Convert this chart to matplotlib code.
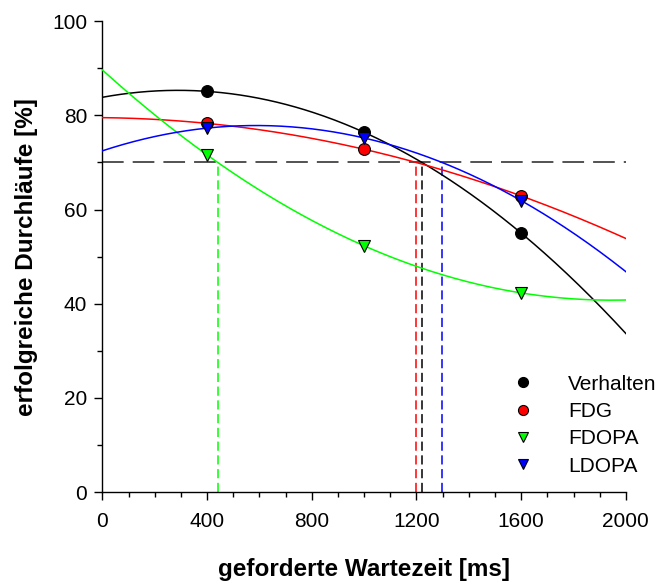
import numpy as np
import matplotlib
matplotlib.use("Agg")
import matplotlib.pyplot as plt
from matplotlib.ticker import MultipleLocator

plt.rcParams['font.family'] = ['Liberation Sans', 'DejaVu Sans']

# Required waiting time (ms) and percentage of successful runs per group
wartezeit = [400, 1000, 1600]
verhalten = [85.1, 76.4, 55.0]
fdg = [78.3, 72.8, 62.9]
fdopa = [71.6, 52.3, 42.3]
ldopa = [77.3, 75.2, 61.9]
schwelle = 70

groups = [
    ("Verhalten", verhalten, "black", "o"),
    ("FDG", fdg, "red", "o"),
    ("FDOPA", fdopa, "#00ff00", "v"),
    ("LDOPA", ldopa, "blue", "v"),
]

fig = plt.figure(figsize=(6.63, 5.81), dpi=100)
ax = fig.add_axes([0.1545, 0.153, 0.7895, 0.8105])

xs = np.linspace(0, 2000, 400)
ax.plot([0, 2000], [schwelle, schwelle], color="#444444", lw=1.3,
        dashes=(12, 5), zorder=2)

for name, vals, col, mk in groups:
    coef = np.polyfit(wartezeit, vals, 2)
    ax.plot(xs, np.polyval(coef, xs), color=col, lw=1.1, zorder=3)
    # crossing of the fitted curve with the threshold
    roots = np.roots(coef - np.array([0, 0, schwelle]))
    roots = [r.real for r in roots if abs(r.imag) < 1e-9 and 0 < r.real < 2000]
    if roots:
        xr = min(roots)
        ax.plot([xr, xr], [0, schwelle], color=col, lw=1.1, dashes=(6, 3),
                zorder=2)
    ax.plot(wartezeit, vals, linestyle="none", marker=mk, color=col,
            markeredgecolor="black", markeredgewidth=0.8,
            markersize=8.5 if mk == "o" else 8, zorder=4, label=name)

ax.set_xlim(0, 2000)
ax.set_ylim(0, 100)
ax.xaxis.set_major_locator(MultipleLocator(400))
ax.xaxis.set_minor_locator(MultipleLocator(100))
ax.yaxis.set_major_locator(MultipleLocator(20))
ax.yaxis.set_minor_locator(MultipleLocator(10))
for s in ("top", "right"):
    ax.spines[s].set_visible(False)
for s in ("left", "bottom"):
    ax.spines[s].set_linewidth(1.0)
ax.tick_params(which="major", direction="out", length=6, width=1.0,
               labelsize=15, pad=5)
ax.tick_params(which="minor", direction="out", length=3.5, width=1.0)
ax.tick_params(axis="x", pad=8)

ax.set_xlabel("geforderte Wartezeit [ms]", fontsize=17.5, fontweight="bold",
              labelpad=20)
ax.set_ylabel("erfolgreiche Durchläufe [%]", fontsize=17.5, fontweight="bold",
              labelpad=10)

leg = ax.legend(loc="lower right", bbox_to_anchor=(1.095, -0.005), frameon=False,
                fontsize=15, handletextpad=1.6, labelspacing=0.4,
                markerscale=0.85, handlelength=1.2)

fig.savefig("out.png", dpi=100)
